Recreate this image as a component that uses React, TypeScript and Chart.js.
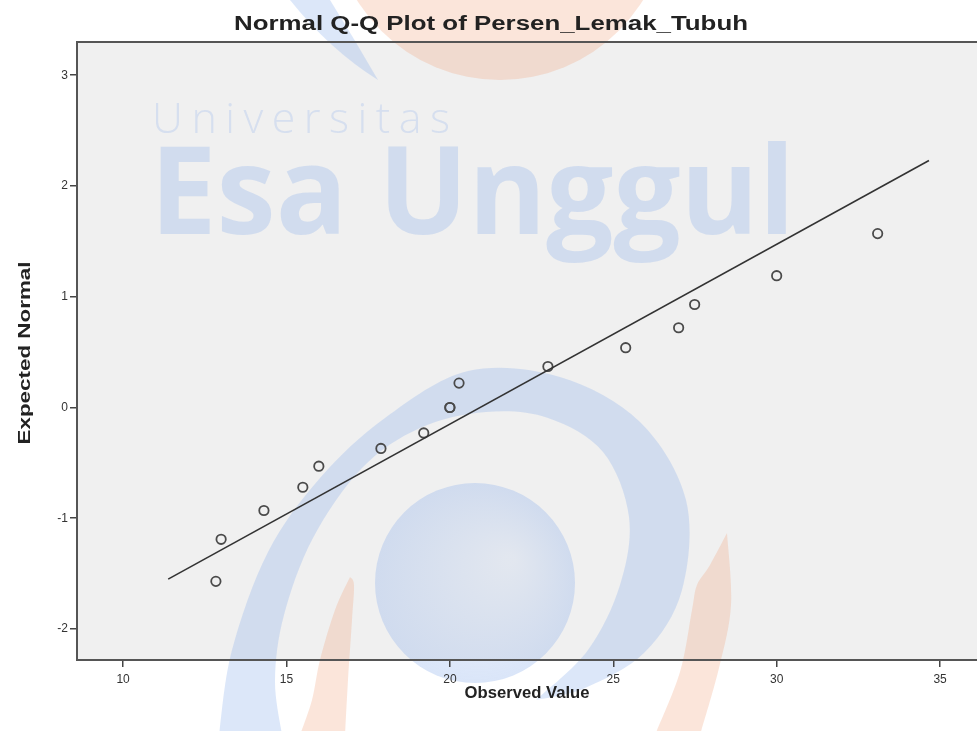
import React, { useEffect, useRef } from "react";
import { Chart, registerables } from "chart.js";

Chart.register(...registerables);

// ---- data ----
const observedValues = [12.84, 13.0, 14.31, 15.5, 15.99, 17.89, 19.2, 20.0, 20.0, 20.28, 23.0, 25.38, 27.0, 27.49, 30.0, 33.09];
const expectedNormal = [-1.57, -1.19, -0.93, -0.72, -0.53, -0.37, -0.23, 0.0, 0.0, 0.22, 0.37, 0.54, 0.72, 0.93, 1.19, 1.57];
const refLineX = [11.38, 34.66];
const refLineY = [-1.55, 2.23];
const xTickValues = [10, 15, 20, 25, 30, 35];
const yTickValues = [-2, -1, 0, 1, 2, 3];
const chartTitle = "Normal Q-Q Plot of Persen_Lemak_Tubuh";
const xAxisTitle = "Observed Value";
const yAxisTitle = "Expected Normal";
const watermarkSmall = "Universitas";
const watermarkLarge = "Esa Unggul";

const SANS = "'Liberation Sans', Arial, sans-serif";

function drawFitText(ctx: CanvasRenderingContext2D, text: string, cx: number, baseY: number, targetW: number, font: string, color: string, rot = 0) {
  ctx.save();
  ctx.font = font;
  const w = ctx.measureText(text).width;
  ctx.translate(cx, baseY);
  if (rot) ctx.rotate(rot);
  ctx.scale(targetW / w, 1);
  ctx.fillStyle = color;
  ctx.textAlign = "center";
  ctx.textBaseline = "alphabetic";
  ctx.fillText(text, 0, 0);
  ctx.restore();
}

function drawSpacedText(ctx: CanvasRenderingContext2D, text: string, left: number, baseY: number, targetW: number, font: string, color: string) {
  ctx.save();
  ctx.font = font;
  ctx.fillStyle = color;
  ctx.textAlign = "left";
  ctx.textBaseline = "alphabetic";
  const chars = text.split("");
  const widths = chars.map((c) => ctx.measureText(c).width);
  const natural = widths.reduce((a, b) => a + b, 0);
  const extra = (targetW - natural) / (chars.length - 1);
  let x = left;
  chars.forEach((c, i) => {
    ctx.fillText(c, x, baseY);
    x += widths[i] + extra;
  });
  ctx.restore();
}

// smooth path through points (Catmull-Rom -> Bezier)
function smoothThrough(ctx: CanvasRenderingContext2D, pts: number[][], moveFirst: boolean) {
  if (moveFirst) ctx.moveTo(pts[0][0], pts[0][1]);
  else ctx.lineTo(pts[0][0], pts[0][1]);
  for (let i = 0; i < pts.length - 1; i++) {
    const p0 = pts[Math.max(0, i - 1)];
    const p1 = pts[i];
    const p2 = pts[i + 1];
    const p3 = pts[Math.min(pts.length - 1, i + 2)];
    const c1x = p1[0] + (p2[0] - p0[0]) / 6;
    const c1y = p1[1] + (p2[1] - p0[1]) / 6;
    const c2x = p2[0] - (p3[0] - p1[0]) / 6;
    const c2y = p2[1] - (p3[1] - p1[1]) / 6;
    ctx.bezierCurveTo(c1x, c1y, c2x, c2y, p2[0], p2[1]);
  }
}

const ringOuter = [[219, 735], [232, 650], [268, 552], [320, 478], [385, 418], [468, 371], [560, 377], [640, 422], [686, 500], [682, 590], [645, 652], [585, 688], [536, 700]];
const ringInner = [[536, 700], [588, 650], [620, 585], [629, 517], [603, 452], [548, 418], [486, 412], [420, 428], [362, 468], [313, 538], [284, 615], [275, 680], [282, 735]];
const orangeLeft = [[350, 577], [335, 610], [320, 660], [312, 700], [300, 735]];
const orangeLeftInner = [[345, 735], [348, 680], [352, 620], [354, 585], [350, 577]];
const orangeRight = [[727, 533], [731, 605], [719, 668], [700, 735]];
const orangeRightInner = [[655, 735], [680, 672], [692, 610], [697, 585], [710, 565], [727, 533]];

function drawWatermark(ctx: CanvasRenderingContext2D) {
  const blue = "rgba(140,175,235,0.3)";
  const orange = "rgba(240,160,120,0.27)";
  ctx.save();
  ctx.fillStyle = orange;
  ctx.beginPath();
  ctx.arc(500, -88, 168, 0, Math.PI * 2);
  ctx.fill();
  ctx.fillStyle = blue;
  ctx.beginPath();
  ctx.moveTo(290, 0);
  ctx.lineTo(330, 0);
  ctx.quadraticCurveTo(355, 40, 378, 80);
  ctx.quadraticCurveTo(330, 50, 290, 0);
  ctx.fill();
  ctx.beginPath();
  smoothThrough(ctx, ringOuter, true);
  smoothThrough(ctx, ringInner, false);
  ctx.closePath();
  ctx.fill();
  const g = ctx.createRadialGradient(510, 560, 5, 475, 583, 100);
  g.addColorStop(0, "rgba(140,175,235,0.14)");
  g.addColorStop(1, "rgba(140,175,235,0.32)");
  ctx.fillStyle = g;
  ctx.beginPath();
  ctx.arc(475, 583, 100, 0, Math.PI * 2);
  ctx.fill();
  ctx.fillStyle = orange;
  ctx.beginPath();
  smoothThrough(ctx, orangeLeft, true);
  smoothThrough(ctx, orangeLeftInner, false);
  ctx.closePath();
  ctx.fill();
  ctx.beginPath();
  smoothThrough(ctx, orangeRight, true);
  smoothThrough(ctx, orangeRightInner, false);
  ctx.closePath();
  ctx.fill();
  ctx.restore();
  drawSpacedText(ctx, watermarkSmall, 152, 133, 298, "300 43px 'Open Sans', 'DejaVu Sans', sans-serif", "rgba(140,175,235,0.26)");
  ctx.save();
  ctx.font = "bold 122px 'Open Sans', 'DejaVu Sans', sans-serif";
  const w = ctx.measureText(watermarkLarge).width;
  ctx.translate(150, 234);
  ctx.scale(645 / w, 1);
  ctx.fillStyle = "rgba(140,175,235,0.3)";
  ctx.textAlign = "left";
  ctx.textBaseline = "alphabetic";
  ctx.fillText(watermarkLarge, 0, 0);
  ctx.restore();
}

const decorPlugin = {
  id: "decor",
  beforeDraw(chart: any) {
    const { ctx, chartArea: a } = chart;
    ctx.save();
    ctx.fillStyle = "#f0f0f0";
    ctx.fillRect(a.left, a.top, a.right - a.left, a.bottom - a.top);
    ctx.restore();
    drawWatermark(ctx);
  },
  afterDraw(chart: any) {
    const { ctx, chartArea: a } = chart;
    ctx.save();
    ctx.strokeStyle = "#555";
    ctx.lineWidth = 2;
    ctx.beginPath();
    ctx.moveTo(a.left - 1, a.top);
    ctx.lineTo(a.right, a.top);
    ctx.stroke();
    ctx.restore();
    drawFitText(ctx, chartTitle, 491, 30, 514, `bold 20px ${SANS}`, "#222");
    drawFitText(ctx, xAxisTitle, 527, 698, 125, `bold 17px ${SANS}`, "#222");
    drawFitText(ctx, yAxisTitle, 30, 353, 183, `bold 17px ${SANS}`, "#222", -Math.PI / 2);
  },
};

export default function App() {
  const ref = useRef<HTMLCanvasElement | null>(null);
  useEffect(() => {
    if (!ref.current) return;
    const points = observedValues.map((x, i) => ({ x, y: expectedNormal[i] }));
    const line = refLineX.map((x, i) => ({ x, y: refLineY[i] }));
    const tickFont = { family: SANS, size: 12 };
    const chart = new Chart(ref.current, {
      type: "scatter",
      data: {
        datasets: [
          {
            type: "line",
            data: line,
            borderColor: "#333",
            borderWidth: 1.6,
            pointRadius: 0,
            showLine: true,
            fill: false,
          } as any,
          {
            type: "scatter",
            data: points,
            pointRadius: 4.7,
            pointBorderWidth: 1.8,
            pointBorderColor: "#4a4a4a",
            pointBackgroundColor: "rgba(0,0,0,0)",
            showLine: false,
          } as any,
        ],
      },
      options: {
        animation: false,
        responsive: true,
        maintainAspectRatio: false,
        layout: { autoPadding: false, padding: { top: 42, left: 0, right: 0, bottom: 0 } },
        plugins: { legend: { display: false }, tooltip: { enabled: false }, title: { display: false } },
        scales: {
          x: {
            type: "linear",
            min: 8.59,
            max: 36.13,
            afterBuildTicks: (s: any) => {
              s.ticks = xTickValues.map((v) => ({ value: v }));
            },
            afterFit: (s: any) => {
              s.height = 71;
              s.paddingLeft = 0;
              s.paddingRight = 0;
            },
            ticks: { font: tickFont, color: "#333", padding: 5, maxRotation: 0, autoSkip: false },
            grid: { display: true, drawOnChartArea: false, drawTicks: true, tickLength: 7, color: "#444", lineWidth: 1.5 },
            border: { display: true, color: "#555", width: 2 },
          },
          y: {
            type: "linear",
            min: -2.28,
            max: 3.3,
            afterBuildTicks: (s: any) => {
              s.ticks = yTickValues.map((v) => ({ value: v }));
            },
            afterFit: (s: any) => {
              s.width = 77;
              s.paddingTop = 0;
              s.paddingBottom = 0;
            },
            ticks: { font: tickFont, color: "#333", padding: 2, autoSkip: false },
            grid: { display: true, drawOnChartArea: false, drawTicks: true, tickLength: 7, color: "#444", lineWidth: 1.5 },
            border: { display: true, color: "#555", width: 2 },
          },
        },
      } as any,
      plugins: [decorPlugin as any],
    });
    return () => chart.destroy();
  }, []);
  return (
    <div style={{ position: "absolute", left: 0, top: 0, width: 977, height: 731, background: "#fff" }}>
      <canvas ref={ref} />
    </div>
  );
}
